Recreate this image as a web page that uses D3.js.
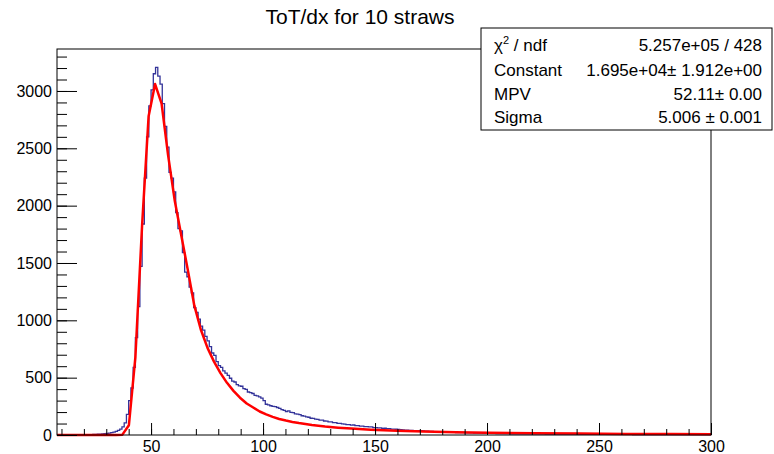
<!DOCTYPE html>
<html>
<head>
<meta charset="utf-8">
<script src="https://d3js.org/d3.v7.min.js"></script>
<style>
  body { margin: 0; background: #fff; }
  svg text { font-family: "Liberation Sans", Arial, Helvetica, sans-serif; fill: #000; }
</style>
</head>
<body>
<div id="chart"></div>
<script>
// histogram: bins of width 1 starting at 8
var histStart = 8, binWidth = 1;
var counts = [
  0, 0, 0, 1, 0, 0, 1, 0, 1, 1,
  2, 1, 2, 3, 2, 4, 5, 5, 7, 8,
  10, 12, 14, 17, 21, 25, 32, 40, 52, 70,
  105, 180, 300, 410, 590, 850, 1120, 1470, 1840, 2240,
  2600, 2870, 3010, 3150, 3206, 3130, 3060, 2890, 2690, 2510,
  2290, 2240, 2120, 1940, 1800, 1780, 1590, 1420, 1380, 1290,
  1240, 1110, 1070, 1010, 950, 915, 860, 820, 770, 715,
  695, 640, 605, 590, 560, 540, 520, 495, 470, 462,
  440, 428, 425, 405, 398, 375, 370, 362, 345, 342,
  332, 322, 300, 268, 262, 255, 250, 247, 240, 232,
  222, 214, 205, 210, 198, 195, 185, 182, 178, 168,
  165, 158, 155, 146, 145, 138, 137, 130, 129, 122,
  121, 115, 114, 108, 108, 102, 101, 97, 95, 91,
  91, 86, 87, 82, 81, 77, 78, 73, 73, 70,
  70, 65, 65, 62, 62, 58, 59, 55, 56, 52,
  51, 50, 48, 46, 44, 43, 42, 41, 40, 39,
  38, 38, 37, 35, 34, 33, 32, 31, 30, 29,
  28, 27, 27, 26, 25, 24, 23, 23, 22, 21,
  21, 20, 19, 19, 18, 18, 17, 17, 16, 16,
  15, 15, 15, 14, 14, 14, 13, 13, 13, 12,
  12, 12, 12, 11, 11, 11, 11, 10, 10, 10,
  10, 10, 9, 9, 9, 9, 9, 9, 8, 8,
  8, 8, 8, 8, 8, 7, 7, 7, 7, 7,
  7, 7, 7, 6, 6, 6, 6, 6, 6, 6,
  6, 6, 6, 6, 5, 5, 5, 5, 5, 5,
  5, 5, 5, 5, 5, 5, 5, 4, 4, 4,
  4, 4, 4, 4, 4, 4, 4, 4, 4, 4,
  4, 3, 3, 4, 3, 3, 3, 3, 3, 3,
  3, 3, 3, 3, 3, 3, 3, 3, 3, 3,
  3, 3
];

// landau fit curve, sampled
var fitX = [8, 20, 30, 34.3, 37.2, 40.1, 43.0, 46.0, 48.9, 51.8, 54.7, 57.6, 60.6, 63.5, 66.4, 69.3,
  72.2, 75.2, 78.1, 81.0, 83.9, 86.8, 89.7, 92.7, 95.6, 98.5, 101.4, 104.3, 107.2, 110.2, 113.1,
  116.0, 121.8, 127.7, 133.5, 139.4, 148.1, 159.8, 171.5, 186.1, 200.7, 221.1, 241.6, 262.0, 282.4, 300];
var fitY = [0, 0, 0, 0, 3, 85, 680, 1830, 2780, 3060, 2890, 2440, 2040, 1740, 1440, 1130,
  920, 760, 640, 540, 455, 385, 325, 275, 240, 205, 180, 158, 140, 126, 114,
  104, 87, 74, 64, 56, 46, 37, 30, 24, 19, 15, 12, 9.6, 8, 6.9];

var xMajor = [50, 100, 150, 200, 250, 300];
var xMinor = d3.range(10, 301, 10);
var yMajor = [0, 500, 1000, 1500, 2000, 2500, 3000];
var yMinor = d3.range(0, 3301, 100);

var title = "ToT/dx for 10 straws";
var statLabels = ["ndf", "Constant", "MPV", "Sigma"];
var statValues = ["5.257e+05 / 428", "1.695e+04\u00b1 1.912e+00", "52.11\u00b1 0.00", "5.006 \u00b1 0.001"];

var W = 774, H = 454;
var frame = { left: 57, right: 711, top: 49, bottom: 435 };

var svg = d3.select("#chart").append("svg")
  .attr("width", W).attr("height", H);

var x = d3.scaleLinear().domain([8, 300]).range([frame.left, frame.right]);
var y = d3.scaleLinear().domain([0, 3366]).range([frame.bottom, frame.top]);

svg.append("defs").append("clipPath").attr("id", "clip")
  .append("rect")
  .attr("x", frame.left).attr("y", frame.top)
  .attr("width", frame.right - frame.left)
  .attr("height", frame.bottom - frame.top + 2);

// histogram step line
var pts = counts.map(function (c, i) { return [histStart + i * binWidth, c]; });
pts.push([histStart + counts.length * binWidth, counts[counts.length - 1]]);

var step = d3.line()
  .x(function (d) { return x(d[0]); })
  .y(function (d) { return y(d[1]); })
  .curve(d3.curveStepAfter);

svg.append("path")
  .datum(pts)
  .attr("clip-path", "url(#clip)")
  .attr("fill", "none")
  .attr("stroke", "#333399")
  .attr("stroke-width", 1.3)
  .attr("d", step);

// fit
var fitLine = d3.line()
  .x(function (d, i) { return x(fitX[i]); })
  .y(function (d) { return y(d); });

svg.append("path")
  .datum(fitY)
  .attr("clip-path", "url(#clip)")
  .attr("fill", "none")
  .attr("stroke", "#ff0000")
  .attr("stroke-width", 2.5)
  .attr("stroke-linejoin", "round")
  .attr("d", fitLine);

// axes, ticks pointing inside the frame
var bottomY = "translate(0," + frame.bottom + ")";
var leftX = "translate(" + frame.left + ",0)";

svg.append("g").attr("transform", bottomY)
  .call(d3.axisBottom(x).tickValues(xMinor).tickSize(-6).tickSizeOuter(0).tickFormat(""));
var gx = svg.append("g").attr("transform", bottomY)
  .call(d3.axisBottom(x).tickValues(xMajor).tickSize(-12).tickSizeOuter(0).tickPadding(6).tickFormat(d3.format("d")));

svg.append("g").attr("transform", leftX)
  .call(d3.axisLeft(y).tickValues(yMinor).tickSize(-10).tickSizeOuter(0).tickFormat(""));
var gy = svg.append("g").attr("transform", leftX)
  .call(d3.axisLeft(y).tickValues(yMajor).tickSize(-20).tickSizeOuter(0).tickPadding(5).tickFormat(d3.format("d")));

svg.selectAll(".domain").remove();
svg.selectAll(".tick line").attr("stroke", "#000");
svg.selectAll(".tick text").style("font-size", "16px").attr("fill", "#000");

svg.append("rect")
  .attr("x", frame.left).attr("y", frame.top)
  .attr("width", frame.right - frame.left)
  .attr("height", frame.bottom - frame.top)
  .attr("fill", "none").attr("stroke", "#000").attr("stroke-width", 1);

// title
svg.append("text")
  .attr("x", 360).attr("y", 24)
  .attr("text-anchor", "middle")
  .style("font-size", "21px")
  .text(title);

// stats box
var box = { x: 481, y: 28, w: 291, h: 102 };
svg.append("rect")
  .attr("x", box.x).attr("y", box.y).attr("width", box.w).attr("height", box.h)
  .attr("fill", "#fff").attr("stroke", "#000").attr("stroke-width", 1);

var rowY = [45, 70, 94, 117];
statLabels.forEach(function (lab, i) {
  var yy = rowY[i] + 6;
  var t = svg.append("text").attr("x", box.x + 13).attr("y", yy).style("font-size", "17px");
  if (i === 0) {
    t.append("tspan").text("\u03c7");
    t.append("tspan").attr("dy", -7).style("font-size", "11px").text("2");
    t.append("tspan").attr("dy", 7).text(" / " + lab);
  } else {
    t.text(lab);
  }
  svg.append("text")
    .attr("x", box.x + box.w - 10).attr("y", yy)
    .attr("text-anchor", "end")
    .style("font-size", "17px")
    .text(statValues[i]);
});
</script>
</body>
</html>
